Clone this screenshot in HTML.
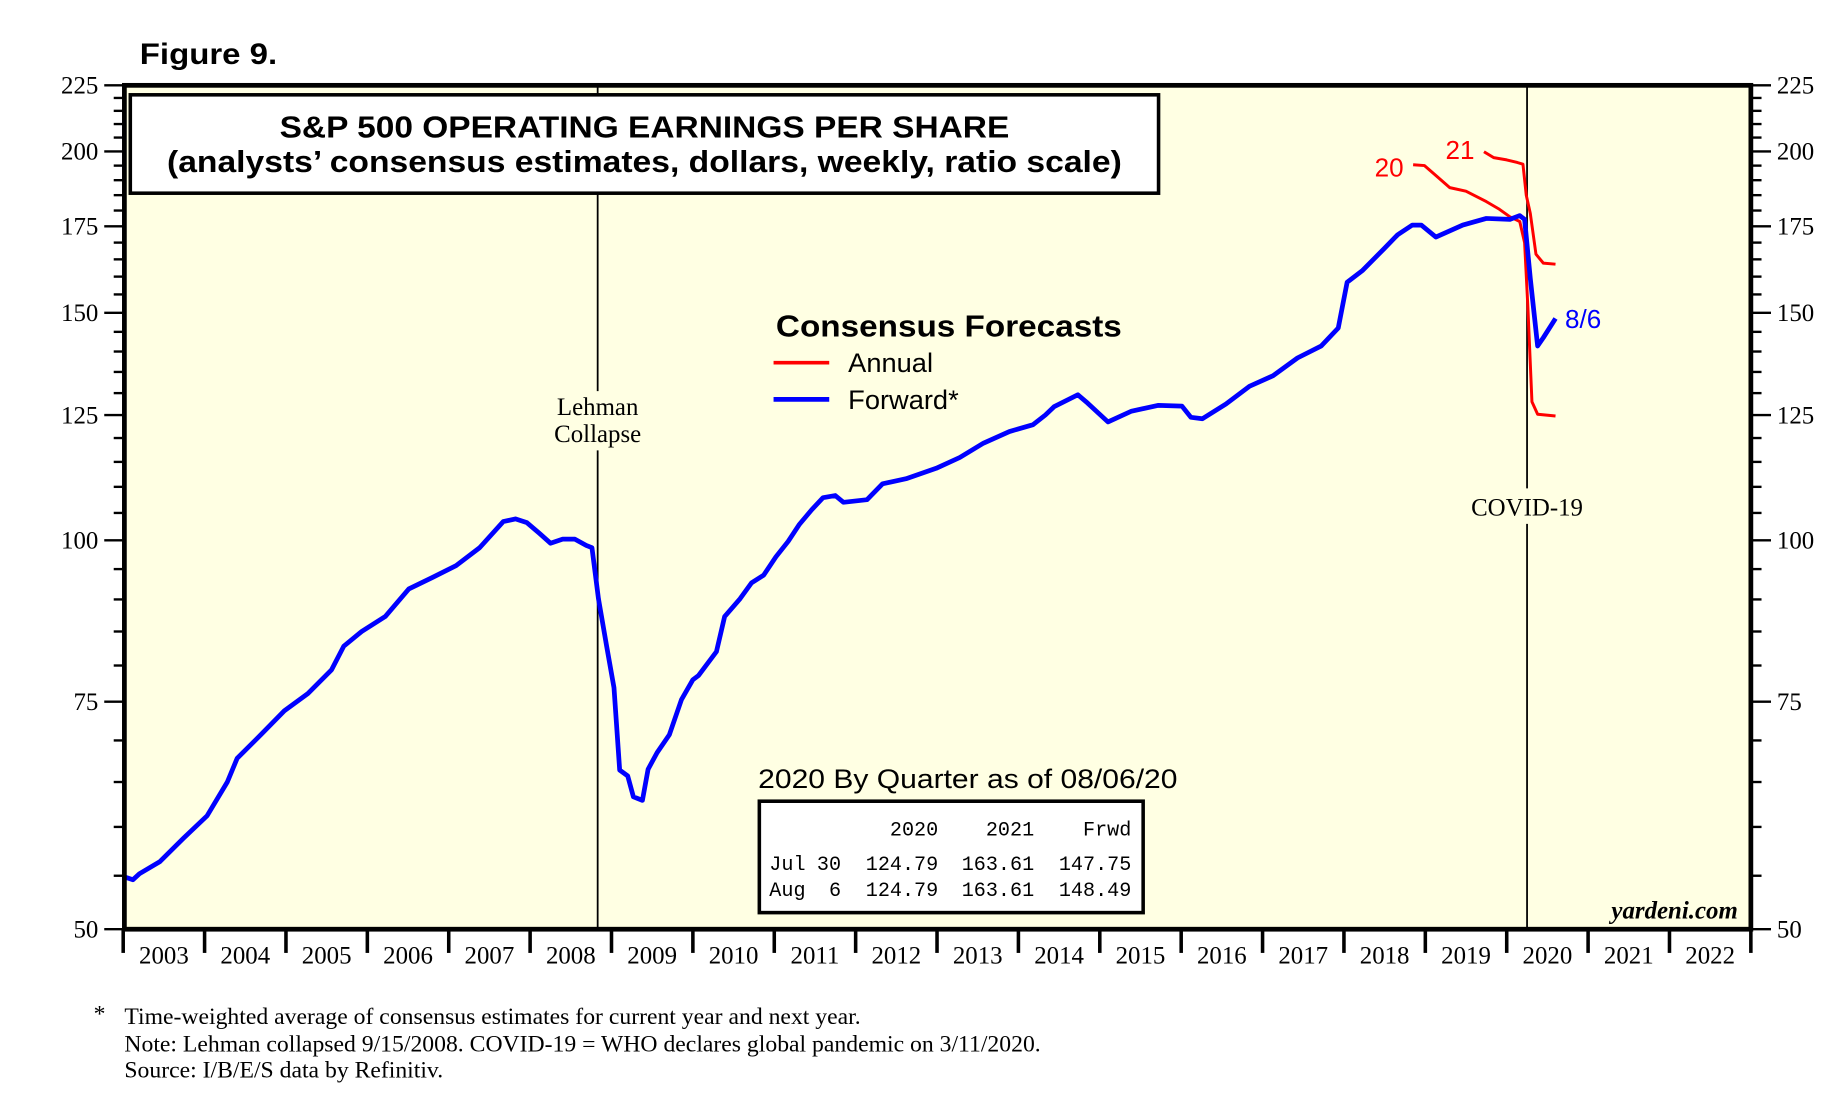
<!DOCTYPE html>
<html><head><meta charset="utf-8"><title>S&P 500 Operating Earnings Per Share</title>
<style>html,body{margin:0;padding:0;background:#fff;}svg{display:block;}</style></head>
<body>
<svg id="chart" width="1848" height="1107" viewBox="0 0 1560 934" preserveAspectRatio="none" xmlns="http://www.w3.org/2000/svg">
<text x="118" y="54" font-family="Liberation Sans, sans-serif" font-weight="bold" font-size="25" textLength="116" lengthAdjust="spacingAndGlyphs">Figure 9.</text>
<rect x="105" y="72" width="1373" height="712" fill="#FFFFE3"/>
<g id="grid"></g>
<g id="series"></g>
<rect x="105" y="72" width="1373" height="712" fill="none" stroke="#000" stroke-width="4"/>
<g>
<rect x="110" y="80" width="868" height="83" fill="#fff" stroke="#000" stroke-width="3"/>
<text x="544" y="116" text-anchor="middle" font-family="Liberation Sans, sans-serif" font-weight="bold" font-size="26" textLength="616" lengthAdjust="spacingAndGlyphs">S&amp;P 500 OPERATING EARNINGS PER SHARE</text>
<text x="544" y="145" text-anchor="middle" font-family="Liberation Sans, sans-serif" font-weight="bold" font-size="26" textLength="806" lengthAdjust="spacingAndGlyphs">(analysts’ consensus estimates, dollars, weekly, ratio scale)</text>
</g>
<g font-family="Liberation Sans, sans-serif">
<text x="655" y="284" font-weight="bold" font-size="26" textLength="292" lengthAdjust="spacingAndGlyphs">Consensus Forecasts</text>
<line x1="653" y1="306" x2="700" y2="306" stroke="#f00" stroke-width="3"/>
<text x="716" y="314" font-size="23">Annual</text>
<line x1="653" y1="337" x2="700" y2="337" stroke="#00f" stroke-width="4"/>
<text x="716" y="345" font-size="23">Forward*</text>
</g>
<g>
<text x="640" y="665" font-family="Liberation Sans, sans-serif" font-size="23" textLength="354" lengthAdjust="spacingAndGlyphs">2020 By Quarter as of 08/06/20</text>
<rect x="641" y="676" width="324" height="94" fill="#fff" stroke="#000" stroke-width="3"/>
<g font-family="Liberation Mono, monospace" font-size="17" text-anchor="end">
<text x="792" y="705">2020</text><text x="873" y="705">2021</text><text x="955" y="705">Frwd</text>
<text x="680" y="734">Jul</text><text x="710" y="734">30</text><text x="792" y="734">124.79</text><text x="873" y="734">163.61</text><text x="955" y="734">147.75</text>
<text x="680" y="756">Aug</text><text x="710" y="756">6</text><text x="792" y="756">124.79</text><text x="873" y="756">163.61</text><text x="955" y="756">148.49</text>
</g></g>
<text x="1467" y="775" text-anchor="end" font-family="Liberation Serif, serif" font-weight="bold" font-style="italic" font-size="21">yardeni.com</text>
<g font-family="Liberation Serif, serif" font-size="20">
<text x="79" y="862">*</text>
<text x="105" y="864">Time-weighted average of consensus estimates for current year and next year.</text>
<text x="105" y="887">Note: Lehman collapsed 9/15/2008. COVID-19 = WHO declares global pandemic on 3/11/2020.</text>
<text x="105" y="909">Source: I/B/E/S data by Refinitiv.</text>
</g>
</svg>
<script>
const yearStart = 2003, yearEnd = 2023;
const yTickLabels = [50, 75, 100, 125, 150, 175, 200, 225];
const yearLabels = [2003,2004,2005,2006,2007,2008,2009,2010,2011,2012,2013,2014,2015,2016,2017,2018,2019,2020,2021,2022];
const fwdDates = [2003.01,2003.12,2003.20,2003.45,2003.74,2004.03,2004.28,2004.40,2004.69,2004.98,2005.27,2005.56,2005.71,2005.93,2006.22,2006.51,2006.80,2007.09,2007.38,2007.67,2007.82,2007.96,2008.11,2008.25,2008.40,2008.55,2008.69,2008.76,2008.84,2008.94,2009.03,2009.10,2009.20,2009.27,2009.38,2009.45,2009.56,2009.71,2009.86,2010.00,2010.07,2010.29,2010.39,2010.58,2010.72,2010.87,2011.02,2011.17,2011.31,2011.46,2011.60,2011.75,2011.85,2012.14,2012.33,2012.62,2012.99,2013.28,2013.57,2013.89,2014.18,2014.33,2014.44,2014.73,2014.85,2015.10,2015.39,2015.72,2016.01,2016.12,2016.26,2016.55,2016.84,2017.13,2017.43,2017.72,2017.93,2018.04,2018.23,2018.49,2018.66,2018.84,2018.95,2019.13,2019.46,2019.75,2020.04,2020.16,2020.22,2020.29,2020.38,2020.45,2020.60];
const fwdValues = [54.9,54.6,55.2,56.4,58.8,61.2,65.0,67.8,70.7,73.8,76.1,79.4,82.8,85.0,87.3,91.7,93.6,95.6,98.7,103.4,103.9,103.2,101.3,99.5,100.2,100.2,99.1,98.7,90.1,82.8,76.9,66.4,65.7,63.3,62.9,66.5,68.5,70.7,75.3,78.0,78.6,82.0,87.3,90.1,92.7,94.0,97.1,99.8,102.9,105.6,107.9,108.3,107.0,107.5,110.6,111.6,113.7,115.9,118.9,121.4,122.9,125.0,126.9,129.6,127.7,123.5,125.9,127.2,127.0,124.5,124.2,127.5,131.6,134.1,138.4,141.4,146.0,158.4,161.8,168.1,172.4,175.4,175.4,171.7,175.4,177.5,177.2,178.4,177.2,159.5,141.4,143.5,148.5];
const ann20Dates = [2018.85,2018.99,2019.13,2019.30,2019.50,2019.75,2019.90,2020.04,2020.16,2020.22,2020.26,2020.31,2020.38,2020.60];
const ann20Values = [195.3,195.0,191.6,187.5,186.3,182.9,180.6,178.0,176.5,170.0,151.3,128.0,125.2,124.8];
const ann21Dates = [2019.72,2019.84,2020.00,2020.13,2020.20,2020.24,2020.29,2020.36,2020.45,2020.60];
const ann21Values = [199.9,197.8,197.0,196.1,195.5,185.0,179.1,166.5,163.9,163.6];
const eventDates = [2008.83, 2020.25];

const NS = "http://www.w3.org/2000/svg";
const X0 = 104, X1 = 1478, Y0 = 784, Y1 = 72;
function xs(t){ return X0 + (t - yearStart) / (yearEnd - yearStart) * (X1 - X0); }
function ys(v){ return Y0 - Math.log(v / 50) / Math.log(225 / 50) * (Y0 - Y1); }
function mk(tag, attrs, parent){ const e = document.createElementNS(NS, tag); for (const k in attrs) e.setAttribute(k, attrs[k]); parent.appendChild(e); return e; }
const svg = document.getElementById('chart');
const grid = document.getElementById('grid');
const series = document.getElementById('series');

for (let v = 50; v <= 225; v += 5) {
  const major = yTickLabels.includes(v);
  const y = ys(v);
  const tl = mk('line', {x1: major ? 88 : 96, x2: 105, y1: y, y2: y, stroke: '#000', 'stroke-width': 2}, grid);
  
  
  const tr = mk('line', {x1: 1478, x2: major ? 1495 : 1487, y1: y, y2: y, stroke: '#000', 'stroke-width': 2}, grid);
  
  
}
yTickLabels.forEach(v => {
  const y = ys(v);
  const a = mk('text', {x: 83, y: y + 7, 'text-anchor': 'end', 'font-family': 'Liberation Serif, serif', 'font-size': 21}, svg);
  a.textContent = v;
  
  
  const b = mk('text', {x: 1500, y: y + 7, 'font-family': 'Liberation Serif, serif', 'font-size': 21}, svg);
  b.textContent = v;
  
  
});
yearLabels.forEach(yr => {
  const x = xs(yr);
  const t = mk('line', {x1: x, x2: x, y1: 784, y2: 804, stroke: '#000', 'stroke-width': 3}, svg);
  
  
  const l = mk('text', {x: xs(yr + 0.5), y: 813, 'text-anchor': 'middle', 'font-family': 'Liberation Serif, serif', 'font-size': 21}, svg);
  l.textContent = yr;
  
  
});
const endTick = mk('line', {x1: X1, x2: X1, y1: 784, y2: 804, stroke: '#000', 'stroke-width': 3}, svg);



const lx = xs(eventDates[0]);
const lehman = mk('path', {d: `M${lx},72V330M${lx},380V784`, stroke: '#000', 'stroke-width': 1.5, fill: 'none'}, grid);


const cx = xs(eventDates[1]);
const covid = mk('path', {d: `M${cx},72V412M${cx},442V784`, stroke: '#000', 'stroke-width': 1.5, fill: 'none'}, grid);


[['Lehman', 350], ['Collapse', 373]].forEach(([s, y]) => {
  const t = mk('text', {x: lx, y: y, 'text-anchor': 'middle', 'font-family': 'Liberation Serif, serif', 'font-size': 21}, svg);
  t.textContent = s;
  
  
});
const cl = mk('text', {x: cx, y: 435, 'text-anchor': 'middle', 'font-family': 'Liberation Serif, serif', 'font-size': 21}, svg);
cl.textContent = 'COVID-19';



function line(dates, vals){
  return dates.map((d, i) => (i ? 'L' : 'M') + xs(d).toFixed(1) + ',' + ys(vals[i]).toFixed(1)).join('');
}
const a20 = mk('path', {d: line(ann20Dates, ann20Values), stroke: '#f00', 'stroke-width': 2.5, fill: 'none', 'stroke-linejoin': 'round'}, series);


const a21 = mk('path', {d: line(ann21Dates, ann21Values), stroke: '#f00', 'stroke-width': 2.5, fill: 'none', 'stroke-linejoin': 'round'}, series);


const fw = mk('path', {d: line(fwdDates, fwdValues), stroke: '#00f', 'stroke-width': 4, fill: 'none', 'stroke-linejoin': 'round'}, series);



const l20 = mk('text', {x: xs(ann20Dates[0]) - 8, y: ys(ann20Values[0]) + 10, 'text-anchor': 'end', fill: '#f00', 'font-family': 'Liberation Sans, sans-serif', 'font-size': 22}, svg);
l20.textContent = '20';


const l21 = mk('text', {x: xs(ann21Dates[0]) - 8, y: ys(ann21Values[0]) + 6, 'text-anchor': 'end', fill: '#f00', 'font-family': 'Liberation Sans, sans-serif', 'font-size': 22}, svg);
l21.textContent = '21';


const lf = mk('text', {x: xs(fwdDates[fwdDates.length - 1]) + 8, y: ys(fwdValues[fwdValues.length - 1]) + 8, fill: '#00f', 'font-family': 'Liberation Sans, sans-serif', 'font-size': 22}, svg);
lf.textContent = '8/6';


</script>
</body></html>
